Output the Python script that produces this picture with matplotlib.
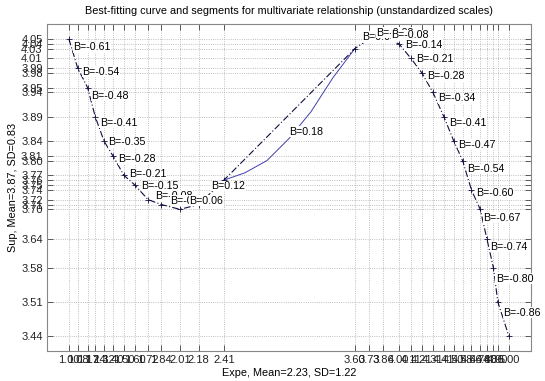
import numpy as np
import matplotlib
matplotlib.use("Agg")
from matplotlib import pyplot as plt

# pontos de quebra dos segmentos
x_esq = [1.00, 1.08, 1.17, 1.24, 1.32, 1.40, 1.50, 1.60, 1.72, 1.84, 2.01, 2.18, 2.41]
y_esq = [4.05, 3.99, 3.95, 3.89, 3.84, 3.81, 3.77, 3.75, 3.72, 3.71, 3.70, 3.71, 3.76]
x_dir = [3.60, 3.73, 3.86, 4.00, 4.11, 4.21, 4.31, 4.41, 4.50, 4.58, 4.66, 4.74, 4.80, 4.86, 4.90, 5.00]
y_dir = [4.03, 4.05, 4.05, 4.04, 4.01, 3.98, 3.94, 3.89, 3.84, 3.80, 3.74, 3.70, 3.64, 3.58, 3.51, 3.44]

# inclinacoes de cada segmento
b_esq = [-0.61, -0.54, -0.48, -0.41, -0.35, -0.28, -0.21, -0.15, -0.08, -0.02, 0.06, 0.12]
b_meio = [0.18]
b_dir = [0.05, -0.02, -0.08, -0.14, -0.21, -0.28, -0.34, -0.41, -0.47, -0.54, -0.60, -0.67, -0.74, -0.80, -0.86]

# curva ajustada entre os dois ramos
x_curva = [2.41, 2.60, 2.80, 3.00, 3.20, 3.40, 3.60]
y_curva = [3.76, 3.775, 3.80, 3.845, 3.90, 3.97, 4.03]

xs = x_esq + x_dir
ys = y_esq + y_dir
bs = b_esq + b_meio + b_dir
cx = x_esq[:-1] + x_curva + x_dir[1:]
cy = y_esq[:-1] + y_curva + y_dir[1:]

plt.rcParams['font.family'] = ['Liberation Sans', 'DejaVu Sans']
fig = plt.figure(figsize=(5.45, 3.81), dpi=100)
ax = fig.add_axes([0.086, 0.079, 0.888, 0.858])

ax.plot(x_curva, y_curva, color='#4040b0', lw=0.7)
ax.plot(xs, ys, color='#101040', lw=0.8, ls=(0, (6, 2, 1, 2)),
        marker='+', ms=5, mew=0.6)

for i in range(len(bs)):
    xm = (xs[i] + xs[i + 1]) / 2
    ym = np.interp(xm, cx, cy)
    ax.annotate('B=%.2f' % bs[i], (xm, ym), xytext=(0, 4.5),
                textcoords='offset points', fontsize=7.7, ha='left', va='center',
                bbox=dict(fc='white', ec='none', pad=0.2), zorder=3)

ax.set_xlim(0.8, 5.2)
ax.set_ylim(3.4095, 4.0805)
ax.set_xticks(xs)
ax.set_xticklabels(['%.2f' % v for v in xs])
yt = sorted(set(ys))
ax.set_yticks(yt)
ax.set_yticklabels(['%.2f' % v for v in yt])
ax.tick_params(direction='in', length=4, width=0.5, labelsize=8,
               top=True, right=True, colors='#222222', pad=3)
ax.grid(True, ls=':', lw=0.6, color='#aaaaaa')
for s in ax.spines.values():
    s.set_color('#888888')
    s.set_linewidth(0.8)

ax.set_title('Best-fitting curve and segments for multivariate relationship (unstandardized scales)',
             fontsize=7.85, pad=7)
ax.set_xlabel('Expe, Mean=2.23, SD=1.22', fontsize=7.8, labelpad=2)
ax.set_ylabel('Sup, Mean=3.87, SD=0.83', fontsize=7.8, labelpad=2)

fig.savefig('out.png', dpi=100)
